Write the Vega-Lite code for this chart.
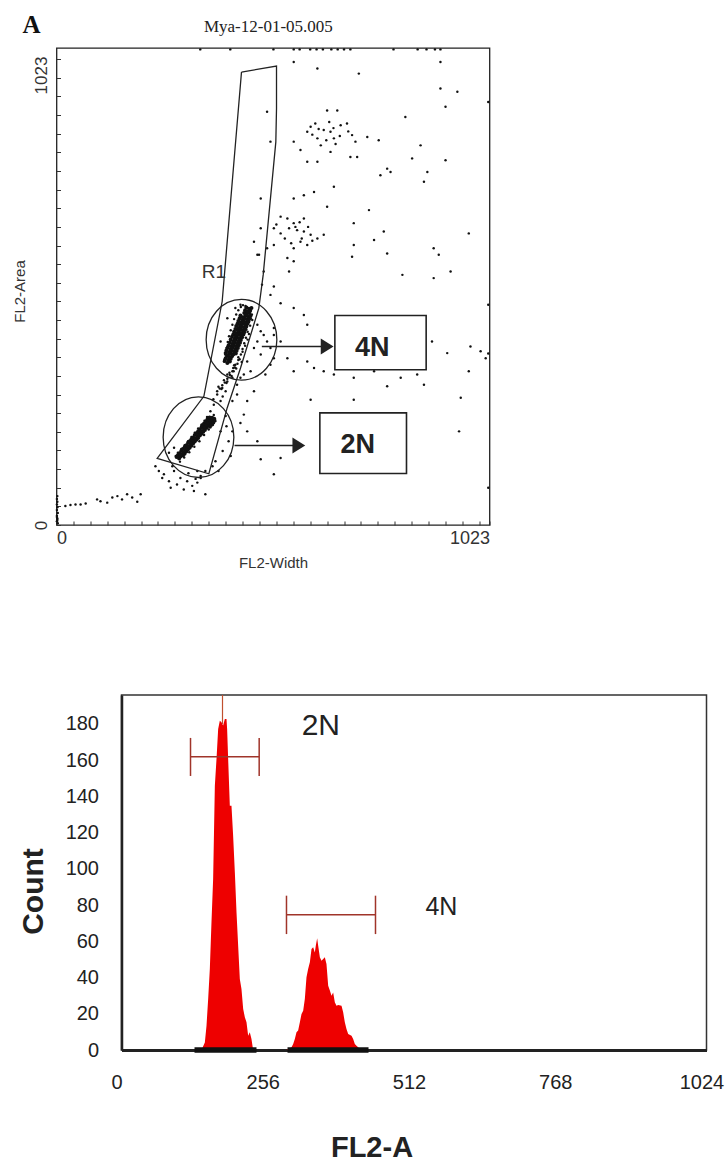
{
  "$schema": "https://vega.github.io/schema/vega-lite/v6.json",
  "background": "white",
  "padding": {"left": 9.5, "top": 12, "right": 4, "bottom": 0},
  "spacing": 122,
  "config": {"font": "Liberation Sans", "axis": {"grid": false}},
  "datasets": {
    "core": [
      {"w":398,"a":352},{"w":404,"a":348},{"w":410,"a":351},
      {"w":400,"a":358},{"w":406,"a":354},{"w":412,"a":357},
      {"w":403,"a":363},{"w":409,"a":360},{"w":415,"a":362},
      {"w":400,"a":369},{"w":406,"a":365},{"w":412,"a":368},{"w":418,"a":366},{"w":424,"a":368},
      {"w":402,"a":375},{"w":408,"a":371},{"w":414,"a":374},{"w":420,"a":372},{"w":426,"a":374},
      {"w":405,"a":381},{"w":411,"a":377},{"w":417,"a":380},{"w":423,"a":378},{"w":429,"a":380},
      {"w":407,"a":386},{"w":413,"a":383},{"w":419,"a":386},{"w":425,"a":384},{"w":431,"a":386},
      {"w":410,"a":392},{"w":416,"a":388},{"w":422,"a":391},{"w":428,"a":389},{"w":434,"a":391},
      {"w":412,"a":398},{"w":418,"a":394},{"w":424,"a":397},{"w":430,"a":395},{"w":436,"a":397},
      {"w":415,"a":404},{"w":421,"a":400},{"w":427,"a":403},{"w":433,"a":401},{"w":439,"a":403},
      {"w":418,"a":409},{"w":424,"a":406},{"w":430,"a":409},{"w":436,"a":407},{"w":442,"a":409},
      {"w":420,"a":415},{"w":426,"a":411},{"w":432,"a":414},{"w":438,"a":412},{"w":444,"a":414},
      {"w":423,"a":421},{"w":429,"a":417},{"w":435,"a":420},{"w":441,"a":418},{"w":447,"a":420},
      {"w":425,"a":427},{"w":431,"a":423},{"w":437,"a":426},{"w":443,"a":424},{"w":449,"a":426},
      {"w":428,"a":432},{"w":434,"a":429},{"w":440,"a":432},{"w":446,"a":430},{"w":452,"a":432},
      {"w":430,"a":438},{"w":436,"a":434},{"w":442,"a":437},{"w":448,"a":435},{"w":454,"a":437},
      {"w":433,"a":444},{"w":439,"a":440},{"w":445,"a":443},{"w":451,"a":441},{"w":457,"a":443},
      {"w":435,"a":450},{"w":441,"a":446},{"w":447,"a":449},{"w":453,"a":447},{"w":459,"a":449},
      {"w":444,"a":455},{"w":450,"a":452},{"w":456,"a":455},
      {"w":446,"a":461},{"w":452,"a":458},{"w":458,"a":460},
      {"w":449,"a":467},{"w":455,"a":464},{"w":461,"a":466},
      {"w":284,"a":146},{"w":290,"a":143},
      {"w":287,"a":150},{"w":293,"a":147},{"w":299,"a":149},
      {"w":291,"a":154},{"w":297,"a":151},{"w":303,"a":153},
      {"w":295,"a":159},{"w":301,"a":156},{"w":307,"a":158},
      {"w":299,"a":163},{"w":305,"a":160},{"w":311,"a":162},
      {"w":303,"a":167},{"w":309,"a":164},{"w":315,"a":166},
      {"w":307,"a":171},{"w":313,"a":168},{"w":319,"a":170},
      {"w":311,"a":176},{"w":317,"a":173},{"w":323,"a":175},
      {"w":315,"a":180},{"w":321,"a":177},{"w":327,"a":179},
      {"w":319,"a":184},{"w":325,"a":181},{"w":331,"a":183},
      {"w":323,"a":188},{"w":329,"a":185},{"w":335,"a":187},
      {"w":327,"a":193},{"w":333,"a":190},{"w":339,"a":192},
      {"w":331,"a":197},{"w":337,"a":194},{"w":343,"a":196},
      {"w":335,"a":201},{"w":341,"a":198},{"w":347,"a":200},
      {"w":339,"a":205},{"w":345,"a":202},{"w":351,"a":204},
      {"w":343,"a":210},{"w":349,"a":207},{"w":355,"a":209},
      {"w":345,"a":214},{"w":351,"a":211},{"w":357,"a":213},{"w":363,"a":211},
      {"w":349,"a":218},{"w":355,"a":215},{"w":361,"a":217},{"w":367,"a":215},
      {"w":353,"a":222},{"w":359,"a":220},{"w":365,"a":222},{"w":371,"a":220},
      {"w":357,"a":227},{"w":363,"a":224},{"w":369,"a":226},
      {"w":362,"a":231},{"w":368,"a":230},{"w":373,"a":228}
    ],
    "dots": [
      {"w":397,"a":355},{"w":399,"a":366},{"w":402,"a":380},{"w":405,"a":393},{"w":408,"a":405},{"w":412,"a":418},{"w":416,"a":430},{"w":420,"a":442},
      {"w":425,"a":452},{"w":430,"a":461},{"w":436,"a":468},{"w":441,"a":472},{"w":447,"a":470},{"w":462,"a":452},{"w":463,"a":440},{"w":458,"a":428},
      {"w":452,"a":415},{"w":448,"a":402},{"w":444,"a":390},{"w":440,"a":378},{"w":436,"a":366},{"w":430,"a":354},{"w":423,"a":344},{"w":418,"a":337},
      {"w":380,"a":287},{"w":386,"a":293},{"w":392,"a":300},{"w":398,"a":306},{"w":404,"a":314},{"w":410,"a":322},{"w":416,"a":330},{"w":422,"a":338},
      {"w":428,"a":346},{"w":433,"a":356},{"w":390,"a":292},{"w":402,"a":305},{"w":414,"a":320},{"w":425,"a":336},{"w":383,"a":297},{"w":396,"a":311},
      {"w":409,"a":327},{"w":420,"a":343},{"w":430,"a":360},{"w":440,"a":372},{"w":446,"a":385},{"w":452,"a":398},{"w":455,"a":410},{"w":438,"a":350},
      {"w":475,"a":430},{"w":483,"a":416},{"w":490,"a":408},{"w":498,"a":394},{"w":506,"a":380},{"w":475,"a":394},{"w":467,"a":380},{"w":483,"a":366},
      {"w":514,"a":358},{"w":451,"a":351},{"w":459,"a":330},{"w":506,"a":344},{"w":494,"a":323},{"w":443,"a":323},{"w":435,"a":316},{"w":514,"a":423},
      {"w":404,"a":323},{"w":423,"a":466},{"w":435,"a":473},{"w":451,"a":458},{"w":459,"a":444},{"w":404,"a":444},{"w":388,"a":394},{"w":396,"a":351},{"w":419,"a":330},
      {"w":282,"a":148},{"w":287,"a":155},{"w":295,"a":163},{"w":303,"a":171},{"w":311,"a":180},{"w":319,"a":189},{"w":327,"a":198},{"w":335,"a":207},
      {"w":343,"a":215},{"w":350,"a":224},{"w":356,"a":232},{"w":372,"a":236},{"w":375,"a":226},{"w":370,"a":215},{"w":360,"a":205},{"w":349,"a":193},
      {"w":338,"a":180},{"w":326,"a":168},{"w":314,"a":156},{"w":302,"a":145},{"w":292,"a":136},
      {"w":364,"a":244},{"w":376,"a":223},{"w":388,"a":201},{"w":400,"a":234},{"w":407,"a":180},{"w":412,"a":148},{"w":393,"a":159},{"w":376,"a":137},
      {"w":383,"a":116},{"w":369,"a":126},{"w":402,"a":212},{"w":416,"a":266},{"w":352,"a":116},{"w":341,"a":105},{"w":329,"a":99},{"w":312,"a":111},
      {"w":416,"a":201},{"w":393,"a":276},{"w":371,"a":270},
      {"w":242,"a":116},{"w":254,"a":109},{"w":266,"a":94},{"w":278,"a":116},{"w":285,"a":87},{"w":293,"a":101},{"w":309,"a":94},{"w":321,"a":84},
      {"w":325,"a":73},{"w":333,"a":91},{"w":341,"a":101},{"w":352,"a":66},{"w":301,"a":76},{"w":270,"a":80},{"w":250,"a":101},{"w":234,"a":126},
      {"w":274,"a":126},{"w":333,"a":116},{"w":266,"a":155},{"w":278,"a":166},
      {"w":21,"a":41},{"w":33,"a":43},{"w":45,"a":44},{"w":57,"a":44},{"w":69,"a":46},{"w":96,"a":55},{"w":104,"a":51},{"w":120,"a":48},
      {"w":132,"a":59},{"w":144,"a":62},{"w":155,"a":55},{"w":167,"a":66},{"w":179,"a":59},{"w":191,"a":50},{"w":199,"a":66},
      {"w":1,"a":8},{"w":2,"a":14},{"w":1,"a":20},{"w":3,"a":26},{"w":1,"a":32},{"w":2,"a":38},{"w":1,"a":44},{"w":2,"a":50},{"w":1,"a":56},
      {"w":2,"a":62},{"w":3,"a":4},{"w":2,"a":11},{"w":1,"a":17},
      {"w":340,"a":1021},{"w":411,"a":1021},{"w":513,"a":1021},{"w":561,"a":1021},{"w":575,"a":1021},{"w":600,"a":1021},{"w":615,"a":1021},
      {"w":630,"a":1021},{"w":650,"a":1021},{"w":665,"a":1021},{"w":680,"a":1021},{"w":695,"a":1021},{"w":797,"a":1021},{"w":854,"a":1021},
      {"w":875,"a":1021},{"w":895,"a":1021},{"w":908,"a":1021},
      {"w":1021,"a":908},{"w":1021,"a":473},{"w":1021,"a":368},{"w":1021,"a":80},
      {"w":380,"a":280},{"w":392,"a":294},{"w":404,"a":308},{"w":416,"a":316},{"w":388,"a":266},{"w":400,"a":287},{"w":427,"a":301},{"w":372,"a":258},
      {"w":498,"a":887},{"w":506,"a":823},{"w":483,"a":701},{"w":479,"a":580},{"w":490,"a":544},{"w":498,"a":594},
      {"w":561,"a":994},{"w":617,"a":980},{"w":715,"a":969},{"w":908,"a":994},{"w":948,"a":930},{"w":908,"a":937},{"w":920,"a":898},
      {"w":640,"a":890},{"w":664,"a":890},{"w":825,"a":876},{"w":561,"a":823},{"w":577,"a":805},{"w":593,"a":844},{"w":601,"a":855},{"w":617,"a":830},
      {"w":632,"a":848},{"w":648,"a":844},{"w":656,"a":830},{"w":672,"a":858},{"w":687,"a":862},{"w":699,"a":837},{"w":707,"a":823},{"w":711,"a":790},
      {"w":695,"a":790},{"w":648,"a":801},{"w":617,"a":780},{"w":593,"a":780},{"w":735,"a":833},{"w":762,"a":826},{"w":861,"a":815},{"w":920,"a":783},
      {"w":841,"a":787},{"w":782,"a":765},{"w":790,"a":758},{"w":766,"a":751},{"w":877,"a":758},{"w":869,"a":737},{"w":656,"a":726},{"w":609,"a":715},
      {"w":585,"a":708},{"w":561,"a":701},{"w":640,"a":683},{"w":739,"a":676},{"w":530,"a":662},{"w":546,"a":658},{"w":561,"a":648},{"w":585,"a":658},
      {"w":514,"a":637},{"w":530,"a":626},{"w":550,"a":637},{"w":569,"a":633},{"w":585,"a":630},{"w":601,"a":623},{"w":577,"a":608},{"w":561,"a":594},
      {"w":593,"a":601},{"w":617,"a":615},{"w":632,"a":623},{"w":703,"a":648},{"w":774,"a":630},{"w":751,"a":612},{"w":703,"a":601},{"w":699,"a":576},
      {"w":782,"a":583},{"w":892,"a":594},{"w":904,"a":580},{"w":975,"a":626},{"w":932,"a":544},{"w":892,"a":530},{"w":818,"a":537},{"w":546,"a":573},
      {"w":561,"a":566},{"w":550,"a":544},{"w":514,"a":601},{"w":483,"a":637},{"w":467,"a":608},{"w":475,"a":580},{"w":486,"a":516},{"w":514,"a":512},
      {"w":506,"a":494},{"w":530,"a":476},{"w":561,"a":466},{"w":585,"a":451},{"w":593,"a":430},{"w":514,"a":408},{"w":530,"a":394},{"w":546,"a":358},
      {"w":561,"a":330},{"w":593,"a":351},{"w":609,"a":337},{"w":632,"a":330},{"w":656,"a":323},{"w":703,"a":316},{"w":751,"a":330},{"w":782,"a":298},
      {"w":814,"a":316},{"w":853,"a":323},{"w":869,"a":301},{"w":703,"a":269},{"w":601,"a":269},{"w":467,"a":287},{"w":451,"a":266},{"w":427,"a":280},
      {"w":443,"a":237},{"w":435,"a":219},{"w":451,"a":201},{"w":475,"a":180},{"w":530,"a":144},{"w":514,"a":109},{"w":483,"a":141},{"w":924,"a":369},
      {"w":979,"a":383},{"w":1003,"a":373},{"w":952,"a":201},{"w":975,"a":330},{"w":1015,"a":358},{"w":888,"a":394},{"w":956,"a":273},
      {"w":620,"a":850},{"w":638,"a":826},{"w":655,"a":852},{"w":605,"a":838},{"w":645,"a":865},{"w":625,"a":815},{"w":670,"a":835},{"w":690,"a":845},
      {"w":612,"a":862},{"w":660,"a":818},
      {"w":540,"a":615},{"w":565,"a":640},{"w":580,"a":615},{"w":555,"a":605},{"w":595,"a":640},{"w":520,"a":645},{"w":575,"a":650},{"w":605,"a":610}
    ],
    "gate": [
      {"o":1,"w":437.5,"a":972.4},{"o":2,"w":520.3,"a":985.3},{"o":3,"w":520.3,"a":893.9},{"o":4,"w":518.7,"a":822.5},
      {"o":5,"w":488.8,"a":536.9},{"o":6,"w":478.5,"a":465.5},{"o":7,"w":435.2,"a":337.0},{"o":8,"w":403.6,"a":251.3},
      {"o":9,"w":360.3,"a":110.0},{"o":10,"w":238.1,"a":142.8},{"o":11,"w":348.5,"a":276.3},{"o":12,"w":391.8,"a":479.8},
      {"o":13,"w":437.5,"a":972.4}
    ],
    "rings": [{"w":437.5,"a":397.7},{"w":335.8,"a":188.5}],
    "boxes": [
      {"w":658.3,"w2":874.2,"a":449.8,"a2":333.4},
      {"w":622.8,"w2":827.7,"a":240.6,"a2":110.6}
    ],
    "shafts": [{"w":485.6,"w2":645,"a":383.4},{"w":421.0,"w2":578,"a":170.6}],
    "heads": [{"w":640.1,"a":383.4},{"w":573.1,"a":170.6}],
    "hist": [
      {"p":"2N","x":140,"c":0},{"p":"2N","x":145.9,"c":4.2},{"p":"2N","x":148.8,"c":13.4},{"p":"2N","x":151.7,"c":28.2},
      {"p":"2N","x":154.6,"c":44.7},{"p":"2N","x":157.5,"c":70.5},{"p":"2N","x":160.4,"c":94.4},{"p":"2N","x":163.4,"c":145.9},
      {"p":"2N","x":166.3,"c":160.7},{"p":"2N","x":169.2,"c":177.2},{"p":"2N","x":172.1,"c":181.8},{"p":"2N","x":175,"c":180.9},
      {"p":"2N","x":177.9,"c":179.1},{"p":"2N","x":180.9,"c":182.8},{"p":"2N","x":183.8,"c":182.8},{"p":"2N","x":184.9,"c":177.2},
      {"p":"2N","x":186.7,"c":160.7},{"p":"2N","x":189.6,"c":134.9},{"p":"2N","x":192.5,"c":134.9},{"p":"2N","x":195.4,"c":118.3},
      {"p":"2N","x":198.4,"c":98.1},{"p":"2N","x":201.3,"c":76},{"p":"2N","x":204.2,"c":57.6},{"p":"2N","x":207.1,"c":39.2},
      {"p":"2N","x":210,"c":33.7},{"p":"2N","x":213,"c":22.6},{"p":"2N","x":215.9,"c":18.1},{"p":"2N","x":218.8,"c":15.3},
      {"p":"2N","x":221.7,"c":7.9},{"p":"2N","x":224.6,"c":9.8},{"p":"2N","x":227.5,"c":6.1},{"p":"2N","x":230.4,"c":0},
      {"p":"4N","x":288.8,"c":0},{"p":"4N","x":297.6,"c":1.5},{"p":"4N","x":300.5,"c":3.3},{"p":"4N","x":303.4,"c":6.1},
      {"p":"4N","x":306.3,"c":9.8},{"p":"4N","x":309.2,"c":10.7},{"p":"4N","x":312.2,"c":15.3},{"p":"4N","x":315.1,"c":19.9},
      {"p":"4N","x":318,"c":21.7},{"p":"4N","x":320.9,"c":28.2},{"p":"4N","x":323.8,"c":40.1},{"p":"4N","x":326.7,"c":44.7},
      {"p":"4N","x":329.7,"c":48.4},{"p":"4N","x":332.6,"c":55.8},{"p":"4N","x":335.5,"c":56.7},{"p":"4N","x":338.4,"c":53.9},
      {"p":"4N","x":340.1,"c":57.6},{"p":"4N","x":342.5,"c":61.7},{"p":"4N","x":344.3,"c":57.6},{"p":"4N","x":347.2,"c":51.2},
      {"p":"4N","x":350.1,"c":49.3},{"p":"4N","x":353,"c":50.2},{"p":"4N","x":355.9,"c":51.2},{"p":"4N","x":358.8,"c":47.5},
      {"p":"4N","x":361.8,"c":35.5},{"p":"4N","x":364.7,"c":32.8},{"p":"4N","x":367.6,"c":30},{"p":"4N","x":370.5,"c":31.8},
      {"p":"4N","x":373.4,"c":26.3},{"p":"4N","x":376.3,"c":24.5},{"p":"4N","x":379.3,"c":24.8},{"p":"4N","x":385.1,"c":24.5},
      {"p":"4N","x":388,"c":20.8},{"p":"4N","x":390.9,"c":15.3},{"p":"4N","x":393.8,"c":11.6},{"p":"4N","x":396.8,"c":8.8},
      {"p":"4N","x":402.6,"c":7.9},{"p":"4N","x":405.5,"c":6.1},{"p":"4N","x":408.4,"c":3.3},{"p":"4N","x":411.3,"c":2.4},
      {"p":"4N","x":414.3,"c":1.5},{"p":"4N","x":417.2,"c":0.6},{"p":"4N","x":423,"c":0}
    ],
    "markers": [
      {"x":120.8,"x2":241,"c":161.9,"c2":161.9},{"x":120.8,"x2":120.8,"c":151.3,"c2":172.3},{"x":241,"x2":241,"c":151.3,"c2":172.3},
      {"x":288.8,"x2":444.6,"c":74.7,"c2":74.7},{"x":288.8,"x2":288.8,"c":64,"c2":85.2},{"x":444.6,"x2":444.6,"c":64,"c2":85.2}
    ],
    "base": [{"x":127.8,"x2":236.3,"c":0},{"x":290.6,"x2":432.4,"c":0}]
  },
  "vconcat": [
    {
      "spacing": 0,
      "hconcat": [
        {"width": 2, "height": 1, "view": {"stroke": null}, "data": {"values": []}, "mark": "point"},
        {
          "width": 433,
          "height": 477,
          "view": {"stroke": "#222", "strokeWidth": 1.3},
          "encoding": {
            "x": {
              "field": "w", "type": "quantitative",
              "scale": {"domain": [0, 1024], "nice": false, "zero": false},
              "axis": {
                "values": [0,40,80,120,160,200,240,280,320,360,400,440,480,520,560,600,640,680,720,760,800,840,880,920,960,1000,1024],
                "domain": false, "tickSize": -4, "tickColor": "#333",
                "labelExpr": "datum.value == 0 ? '0' : datum.value == 1024 ? '1023' : ''",
                "labelFlush": true, "labelPadding": 8, "labelFontSize": 18, "labelColor": "#333",
                "title": "FL2-Width", "titleFontSize": 15, "titleFontWeight": "normal", "titleColor": "#333", "titlePadding": 8
              }
            },
            "y": {
              "field": "a", "type": "quantitative",
              "scale": {"domain": [0, 1024], "nice": false, "zero": false},
              "axis": {
                "values": [0,40,80,120,160,200,240,280,320,360,400,440,480,520,560,600,640,680,720,760,800,840,880,920,960,966,1000],
                "domain": false, "tickSize": -4, "tickColor": "#333",
                "tickOpacity": {"condition": {"test": "datum.value == 966", "value": 0}, "value": 1},
                "labelExpr": "datum.value == 0 ? '0' : datum.value == 966 ? '1023' : ''",
                "labelAngle": 270, "labelAlign": "center", "labelBaseline": "bottom",
                "labelPadding": 10, "labelFontSize": 17, "labelColor": "#333",
                "title": "FL2-Area", "titleFontSize": 15, "titleFontWeight": "normal", "titleColor": "#333",
                "titleX": -37, "titleY": 243, "titleBaseline": "middle", "titleAlign": "center", "titleAngle": 270
              }
            }
          },
          "layer": [
            {"data": {"name": "dots"}, "mark": {"type": "point", "filled": true, "size": 6, "color": "#111", "opacity": 1}},
            {"data": {"name": "core"}, "mark": {"type": "point", "filled": true, "size": 16, "color": "#111", "opacity": 1}},
            {"data": {"name": "gate"}, "mark": {"type": "line", "color": "#222", "strokeWidth": 1.3},
             "encoding": {"order": {"field": "o", "type": "quantitative"}}},
            {"data": {"name": "rings"},
             "mark": {"type": "point", "filled": false, "opacity": 1, "color": "#222", "strokeWidth": 1.3, "size": 6500,
                      "shape": "M 0.877 0 C 0.877 0.552 0.484 1 0 1 C -0.484 1 -0.877 0.552 -0.877 0 C -0.877 -0.552 -0.484 -1 0 -1 C 0.484 -1 0.877 -0.552 0.877 0 Z"}},
            {"data": {"name": "boxes"}, "mark": {"type": "rect", "filled": false, "color": "#222", "strokeWidth": 1.6},
             "encoding": {"x2": {"field": "w2"}, "y2": {"field": "a2"}}},
            {"data": {"name": "shafts"}, "mark": {"type": "rule", "color": "#222", "strokeWidth": 1.5},
             "encoding": {"x2": {"field": "w2"}}},
            {"data": {"name": "heads"},
             "mark": {"type": "point", "filled": true, "opacity": 1, "color": "#222", "size": 256, "shape": "M -0.8 -1 L 0.8 0 L -0.8 1 Z"}},
            {"data": {"values": [{"w": 746.6, "a": 379.8, "t": "4N"}, {"w": 712.6, "a": 172.8, "t": "2N"}]},
             "mark": {"type": "text", "fontSize": 27, "fontWeight": "bold", "color": "#222"},
             "encoding": {"text": {"field": "t"}}},
            {"data": {"values": [{"w": 372, "a": 544, "t": "R1"}]},
             "mark": {"type": "text", "fontSize": 19, "color": "#333"},
             "encoding": {"text": {"field": "t"}}},
            {"data": {"values": [{"w": 501, "a": 1069, "t": "Mya-12-01-05.005"}]},
             "mark": {"type": "text", "fontSize": 17, "font": "Liberation Serif", "color": "#222"},
             "encoding": {"text": {"field": "t"}}},
            {"data": {"values": [{"w": -59, "a": 1073, "t": "A"}]},
             "mark": {"type": "text", "fontSize": 25, "fontWeight": "bold", "font": "Liberation Serif", "color": "#111"},
             "encoding": {"text": {"field": "t"}}}
          ]
        }
      ]
    },
    {
      "spacing": 0,
      "hconcat": [
        {"width": 7, "height": 1, "view": {"stroke": null}, "data": {"values": []}, "mark": "point"},
        {
          "width": 585,
          "height": 355,
          "view": {"stroke": "#333", "strokeWidth": 1.5},
          "encoding": {
            "x": {
              "field": "x", "type": "quantitative",
              "scale": {"domain": [0, 1024], "nice": false, "zero": false},
              "axis": {
                "values": [0, 256, 512, 768, 1024], "format": "d", "ticks": false, "labelFlush": false, "labelOffset": -5,
                "labelPadding": 22, "labelFontSize": 20, "labelColor": "#222",
                "domainColor": "#222", "domainWidth": 3,
                "title": "FL2-A", "titleFontSize": 29, "titleFontWeight": "bold", "titleColor": "#222",
                "titleX": 250, "titleY": 106, "titleBaseline": "alphabetic", "titleAlign": "center"
              }
            },
            "y": {
              "field": "c", "type": "quantitative", "stack": null,
              "scale": {"domain": [0, 196], "nice": false, "zero": true},
              "axis": {
                "values": [0, 20, 40, 60, 80, 100, 120, 140, 160, 180], "ticks": false,
                "labelPadding": 23, "labelFontSize": 20, "labelColor": "#222",
                "domainColor": "#222", "domainWidth": 2.5,
                "title": "Count", "titleFontSize": 30, "titleFontWeight": "bold", "titleColor": "#222",
                "titleX": -88.3, "titleY": 196, "titleBaseline": "middle", "titleAlign": "center", "titleAngle": 270
              }
            }
          },
          "layer": [
            {"data": {"name": "hist"}, "mark": {"type": "area", "color": "#ee0000", "opacity": 1},
             "encoding": {"detail": {"field": "p"}}},
            {"data": {"values": [{"x": 176.8, "c": 180, "c2": 196}]},
             "mark": {"type": "rule", "color": "#c0502f", "strokeWidth": 1.2},
             "encoding": {"y2": {"field": "c2"}}},
            {"data": {"name": "markers"}, "mark": {"type": "rule", "color": "#a0342a", "strokeWidth": 1.5},
             "encoding": {"x2": {"field": "x2"}, "y2": {"field": "c2"}}},
            {"data": {"name": "base"}, "mark": {"type": "rule", "color": "#111", "strokeWidth": 5.5, "strokeCap": "butt"},
             "encoding": {"x2": {"field": "x2"}}},
            {"data": {"values": [{"x": 348.9, "c": 179, "t": "2N"}]},
             "mark": {"type": "text", "fontSize": 30, "color": "#222"},
             "encoding": {"text": {"field": "t"}}},
            {"data": {"values": [{"x": 560, "c": 79, "t": "4N"}]},
             "mark": {"type": "text", "fontSize": 25, "color": "#222"},
             "encoding": {"text": {"field": "t"}}}
          ]
        }
      ]
    }
  ]
}
